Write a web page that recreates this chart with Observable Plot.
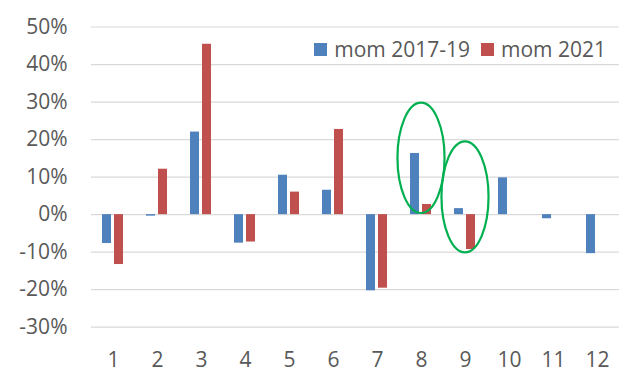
<!DOCTYPE html>
<html>
<head>
<meta charset="utf-8">
<script src="https://cdn.jsdelivr.net/npm/d3@7"></script>
<script src="https://cdn.jsdelivr.net/npm/@observablehq/plot@0.6"></script>
<style>
  html, body { margin: 0; padding: 0; background: #fff; }
  #wrap { position: relative; width: 640px; height: 380px; font-family: "Open Sans", sans-serif; color: #595959; }
  #legend { position: absolute; top: 37px; right: 34px; display: flex; align-items: center; font-size: 21px; line-height: 24px; }
  #legend .item { display: flex; align-items: center; margin-left: 11px; }
  #legend .sw { width: 13px; height: 13px; margin-right: 7px; }
</style>
</head>
<body>
<div id="wrap"></div>
<script>
// ---- data ----
const months = [1, 2, 3, 4, 5, 6, 7, 8, 9, 10, 11, 12];
const seriesNames = ["mom 2017-19", "mom 2021"];
const seriesColors = ["#4F81BD", "#C0504D"];
const mom2017_19 = [-0.077, -0.004, 0.220, -0.076, 0.105, 0.065, -0.203, 0.163, 0.016, 0.098, -0.011, -0.104];
const mom2021    = [-0.133, 0.121, 0.454, -0.073, 0.060, 0.227, -0.196, 0.027, -0.093, null, null, null];
const yTicks = [-0.3, -0.2, -0.1, 0, 0.1, 0.2, 0.3, 0.4, 0.5];
// annotation ellipses (month, y-center, y-half-height in data units)
const ellipseMonths = [8, 9];
const ellipseCenters = [0.150, 0.046];
const ellipseHalfHeights = [0.147, 0.148];

const rows = [];
months.forEach((m, i) => {
  if (mom2017_19[i] != null) rows.push({month: m, series: seriesNames[0], value: mom2017_19[i]});
  if (mom2021[i] != null) rows.push({month: m, series: seriesNames[1], value: mom2021[i]});
});

const fmt = d => Math.round(d * 100) + "%";

const plot = Plot.plot({
  width: 640,
  height: 380,
  marginLeft: 88,
  marginRight: 19,
  marginTop: 26.5,
  marginBottom: 53.3,
  style: {fontFamily: "'Open Sans', sans-serif", fontSize: "21px", color: "#595959", background: "white"},
  facet: {data: rows, x: "month"},
  fx: {domain: months, padding: 0, axis: "bottom", tickSize: 0, tickPadding: 25, label: null},
  x: {domain: seriesNames, paddingInner: 0.22, paddingOuter: 0.85, axis: null},
  y: {domain: [-0.3, 0.5], ticks: yTicks, tickFormat: fmt, tickSize: 0, tickPadding: 24, label: null},
  color: {domain: seriesNames, range: seriesColors},
  marks: [
    Plot.ruleY(yTicks, {stroke: "#d9d9d9", strokeWidth: 1.2}),
    Plot.barY(rows, {x: "series", y: "value", fill: "series"})
  ]
});

const wrap = document.getElementById("wrap");
wrap.appendChild(plot);

// ellipses drawn with the plot's own scales
const fxS = plot.scale("fx");
const yS = plot.scale("y");
function fxApply(v) {
  if (fxS.apply) return fxS.apply(v);
  const s = d3.scaleBand().domain(fxS.domain).range(fxS.range).paddingInner(fxS.paddingInner || 0).paddingOuter(fxS.paddingOuter || 0).align(fxS.align ?? 0.5);
  return s(v);
}
function yApply(v) {
  if (yS.apply) return yS.apply(v);
  return d3.scaleLinear().domain(yS.domain).range(yS.range)(v);
}
const bw = fxS.bandwidth;
const svg = d3.select(plot);
ellipseMonths.forEach((m, i) => {
  const cx = fxApply(m) + bw / 2;
  const top = yApply(ellipseCenters[i] + ellipseHalfHeights[i]);
  const bot = yApply(ellipseCenters[i] - ellipseHalfHeights[i]);
  svg.append("ellipse")
    .attr("cx", cx)
    .attr("cy", (top + bot) / 2)
    .attr("rx", bw * 0.535)
    .attr("ry", Math.abs(bot - top) / 2)
    .attr("fill", "none")
    .attr("stroke", "#00B050")
    .attr("stroke-width", 2.2);
});

// legend
const legend = document.createElement("div");
legend.id = "legend";
seriesNames.forEach((name, i) => {
  const item = document.createElement("div");
  item.className = "item";
  const sw = document.createElement("span");
  sw.className = "sw";
  sw.style.background = seriesColors[i];
  const t = document.createElement("span");
  t.textContent = name;
  item.appendChild(sw);
  item.appendChild(t);
  legend.appendChild(item);
});
wrap.appendChild(legend);
</script>
</body>
</html>
